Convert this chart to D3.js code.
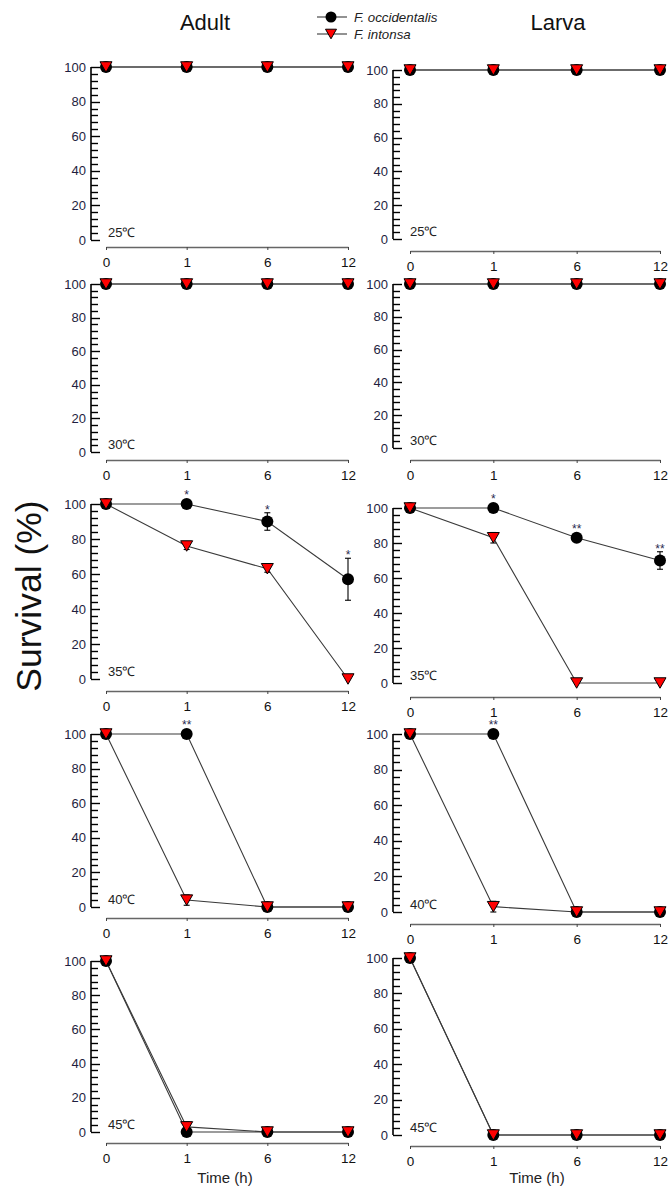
<!DOCTYPE html>
<html>
<head>
<meta charset="utf-8">
<script src="https://cdn.jsdelivr.net/npm/d3@7"></script>
<style>
  body { margin: 0; background: #fff; }
  svg { display: block; font-family: "Liberation Sans", Arial, sans-serif; }
</style>
</head>
<body>
<svg id="chart" width="669" height="1187"></svg>
<script>
const times = ['0', '1', '6', '12'];
const temps = ['25℃', '30℃', '35℃', '40℃', '45℃'];
const stages = ['Adult', 'Larva'];
const seriesNames = ['F. occidentalis', 'F. intonsa'];

// survival (%) per temperature row, at times 0, 1, 6, 12 h
const adultOcc = [[100, 100, 100, 100], [100, 100, 100, 100], [100, 100, 90, 57], [100, 100, 0, 0], [100, 0, 0, 0]];
const adultOccErr = [[0, 0, 0, 0], [0, 0, 0, 0], [0, 0, 5, 12], [0, 0, 0, 0], [0, 0, 0, 0]];
const adultInt = [[100, 100, 100, 100], [100, 100, 100, 100], [100, 76, 63, 0], [100, 4, 0, 0], [100, 3, 0, 0]];
const adultIntErr = [[0, 0, 0, 0], [0, 0, 0, 0], [0, 2, 2, 0], [0, 3, 0, 0], [0, 3, 0, 0]];
const adultStars = [['', '', '', ''], ['', '', '', ''], ['', '*', '*', '*'], ['', '**', '', ''], ['', '', '', '']];

const larvaOcc = [[100, 100, 100, 100], [100, 100, 100, 100], [100, 100, 83, 70], [100, 100, 0, 0], [100, 0, 0, 0]];
const larvaOccErr = [[0, 0, 0, 0], [0, 0, 0, 0], [0, 0, 2, 5], [0, 0, 0, 0], [0, 0, 0, 0]];
const larvaInt = [[100, 100, 100, 100], [100, 100, 100, 100], [100, 83, 0, 0], [100, 3, 0, 0], [100, 0, 0, 0]];
const larvaIntErr = [[0, 0, 0, 0], [0, 0, 0, 0], [0, 3, 0, 0], [0, 3, 0, 0], [0, 0, 0, 0]];
const larvaStars = [['', '', '', ''], ['', '', '', ''], ['', '*', '**', '**'], ['', '**', '', ''], ['', '', '', '']];

const yMajor = [0, 20, 40, 60, 80, 100];
const yMinor = d3.range(0, 101, 4).filter(v => v % 20 !== 0);

// layout: column x positions, per-row [top(100), bottom(0), x-axis line]
const cols = [
  { axisX: 91, x0: 106, x1: 348, titleX: 205, timeX: 225,
    rows: [[67, 240, 247], [284, 452, 460], [504, 679, 691], [734, 907, 918], [961, 1132, 1143]] },
  { axisX: 393, x0: 410, x1: 660, titleX: 558, timeX: 537,
    rows: [[70, 239, 251], [284, 448, 460], [508, 683, 697], [734, 912, 924], [958, 1135, 1146]] }
];

const svg = d3.select('#chart');
const lineColor = '#3a3a3a';
const labelColor = '#1e1e40';
const font = '"Liberation Sans", Arial, sans-serif';

function triPath(cx, cy, s) {
  const h = s * 0.87;
  return 'M' + (cx - s / 2) + ',' + (cy - h / 2) + 'L' + (cx + s / 2) + ',' + (cy - h / 2) + 'L' + cx + ',' + (cy + h / 2) + 'Z';
}

function drawPanel(col, r, occ, occErr, int, intErr, stars) {
  const [top, bottom, axisY] = col.rows[r];
  const x = d3.scalePoint().domain(times).range([col.x0, col.x1]).padding(0);
  const y = d3.scaleLinear().domain([0, 100]).range([bottom, top]);
  const g = svg.append('g');

  // y axis line + inward ticks (major every 20, minor every 4)
  g.append('line').attr('x1', col.axisX).attr('x2', col.axisX).attr('y1', y(0)).attr('y2', y(100))
    .attr('stroke', '#000').attr('stroke-width', 1.6);
  g.selectAll('.ymaj').data(yMajor).enter().append('line')
    .attr('x1', col.axisX).attr('x2', col.axisX + 9)
    .attr('y1', d => Math.round(y(d)) + 0.5).attr('y2', d => Math.round(y(d)) + 0.5)
    .attr('stroke', '#000').attr('stroke-width', 1.4);
  g.selectAll('.ymin').data(yMinor).enter().append('line')
    .attr('x1', col.axisX).attr('x2', col.axisX + 7)
    .attr('y1', d => Math.round(y(d)) + 0.5).attr('y2', d => Math.round(y(d)) + 0.5)
    .attr('stroke', '#000').attr('stroke-width', 1.4);
  const gyl = g.append('g').attr('transform', 'translate(' + col.axisX + ',0)')
    .call(d3.axisLeft(y).tickValues(yMajor).tickSize(0).tickPadding(5));
  gyl.select('.domain').remove();
  gyl.selectAll('text').attr('font-size', 13).attr('fill', labelColor).attr('font-family', font);

  // x axis, detached below the plot
  const gx = g.append('g').attr('transform', 'translate(0,' + axisY + ')')
    .call(d3.axisBottom(x).tickSize(3).tickSizeOuter(0).tickPadding(7));
  gx.select('.domain').attr('stroke', '#666').attr('stroke-width', 1.6);
  gx.selectAll('line').attr('stroke', '#444');
  gx.selectAll('text').attr('font-size', 13.5).attr('fill', '#111').attr('font-family', font);

  // temperature label
  g.append('text').attr('x', col.axisX + 17).attr('y', bottom - 3)
    .attr('font-size', 13).attr('fill', '#222').text(temps[r]);

  const line = d3.line().x((d, i) => x(times[i])).y(d => y(d));
  g.append('path').attr('d', line(occ)).attr('fill', 'none').attr('stroke', lineColor).attr('stroke-width', 1.1);
  g.append('path').attr('d', line(int)).attr('fill', 'none').attr('stroke', lineColor).attr('stroke-width', 1.1);

  // error bars
  [[occ, occErr], [int, intErr]].forEach(([vals, errs]) => {
    vals.forEach((v, i) => {
      const e = errs[i];
      if (!e) return;
      const cx = x(times[i]);
      g.append('line').attr('x1', cx).attr('x2', cx).attr('y1', y(v - e)).attr('y2', y(v + e))
        .attr('stroke', '#000').attr('stroke-width', 1.1);
      [v - e, v + e].forEach(w => {
        g.append('line').attr('x1', cx - 3).attr('x2', cx + 3).attr('y1', y(w)).attr('y2', y(w))
          .attr('stroke', '#000').attr('stroke-width', 1.1);
      });
    });
  });

  g.selectAll('.occ').data(occ).enter().append('circle')
    .attr('cx', (d, i) => x(times[i])).attr('cy', d => y(d)).attr('r', 6)
    .attr('fill', '#000');
  g.selectAll('.int').data(int).enter().append('path')
    .attr('d', (d, i) => triPath(x(times[i]), y(d), 12))
    .attr('fill', '#ff0000').attr('stroke', '#000').attr('stroke-width', 1);

  // significance marks
  stars.forEach((s, i) => {
    if (!s) return;
    const v = occ[i], e = occErr[i];
    const anchor = Math.min(y(v + e), y(v) - 6);
    g.append('text').attr('x', x(times[i])).attr('y', anchor + 1)
      .attr('text-anchor', 'middle').attr('font-size', 12).attr('fill', '#2a2a50').text(s);
  });
}

temps.forEach((t, r) => {
  drawPanel(cols[0], r, adultOcc[r], adultOccErr[r], adultInt[r], adultIntErr[r], adultStars[r]);
  drawPanel(cols[1], r, larvaOcc[r], larvaOccErr[r], larvaInt[r], larvaIntErr[r], larvaStars[r]);
});

// column titles and x titles
stages.forEach((s, i) => {
  svg.append('text').attr('x', cols[i].titleX).attr('y', 30).attr('text-anchor', 'middle')
    .attr('font-size', 22).attr('fill', '#111').text(s);
  svg.append('text').attr('x', cols[i].timeX).attr('y', 1183).attr('text-anchor', 'middle')
    .attr('font-size', 15).attr('fill', '#222').text('Time (h)');
});

// legend
const legend = svg.append('g');
seriesNames.forEach((name, i) => {
  const ly = 17 + i * 17;
  legend.append('line').attr('x1', 317).attr('x2', 347).attr('y1', ly).attr('y2', ly)
    .attr('stroke', lineColor).attr('stroke-width', 1.1);
  if (i === 0) {
    legend.append('circle').attr('cx', 331).attr('cy', ly).attr('r', 5.5).attr('fill', '#000');
  } else {
    legend.append('path').attr('d', triPath(331, ly, 11)).attr('fill', '#ff0000')
      .attr('stroke', '#000').attr('stroke-width', 1);
  }
  legend.append('text').attr('x', 354).attr('y', ly + 4.5).attr('font-size', 13.3)
    .attr('font-style', 'italic').attr('fill', '#222').text(name);
});

// y title
svg.append('text').attr('transform', 'translate(41,596) rotate(-90)')
  .attr('text-anchor', 'middle').attr('font-size', 35.5).attr('fill', '#111').text('Survival (%)');
</script>
</body>
</html>
